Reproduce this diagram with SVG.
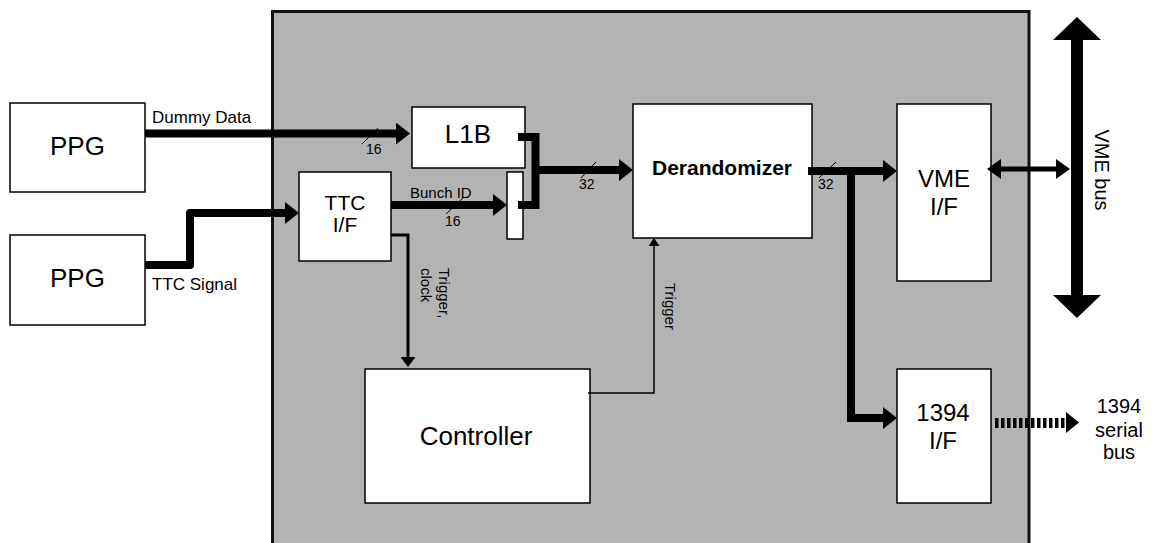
<svg xmlns="http://www.w3.org/2000/svg" width="1152" height="543" viewBox="0 0 1152 543">
<style>
text{font-family:"Liberation Sans",Arial,sans-serif;fill:#000}
.box{fill:#fff;stroke:#000;stroke-width:1.5}
.big{font-size:26px;text-anchor:middle}
.if{font-size:24px;text-anchor:middle}
.mid{font-size:21px;text-anchor:middle}
.lbl{font-size:17px}
.sm{font-size:14px}
.rot{font-size:15px}
.thick{fill:none;stroke:#000;stroke-width:8}
.thin{fill:none;stroke:#000}
.slash{stroke:#000;stroke-width:1}
</style>
<defs>
<marker id="ah" markerUnits="userSpaceOnUse" markerWidth="14" markerHeight="22" refX="0" refY="11" orient="auto"><path d="M0,0 L14,11 L0,22 z"/></marker>
<marker id="ahb" markerUnits="userSpaceOnUse" markerWidth="14" markerHeight="20" refX="0" refY="10" orient="auto-start-reverse"><path d="M0,0 L14,10 L0,20 z"/></marker>
<marker id="ahm" markerUnits="userSpaceOnUse" markerWidth="10" markerHeight="15" refX="0" refY="7.5" orient="auto"><path d="M0,0 L10,7.5 L0,15 z"/></marker>
<marker id="ahs" markerUnits="userSpaceOnUse" markerWidth="8" markerHeight="11" refX="0" refY="5.5" orient="auto"><path d="M0,0 L8,5.5 L0,11 z"/></marker>
</defs>
<rect width="1152" height="543" fill="#fff"/>
<g id="board"><rect x="272.5" y="11.5" width="756.5" height="600" fill="#b3b3b3" stroke="#111" stroke-width="3"/></g>

<g id="ppg1"><rect class="box" x="10" y="103" width="135" height="89"/><text class="big" x="77.5" y="155">PPG</text></g>
<g id="ppg2"><rect class="box" x="10" y="235" width="135" height="90"/><text class="big" x="77.5" y="287">PPG</text></g>
<g id="l1b"><rect class="box" x="412" y="107" width="113" height="61"/><text class="big" x="468" y="143">L1B</text></g>
<g id="mux"><rect class="box" x="507" y="172" width="16" height="67"/></g>
<g id="ttc"><rect class="box" x="299" y="172" width="92" height="89"/><text class="mid" x="345" y="210">TTC</text><text class="mid" x="345" y="232">I/F</text></g>
<g id="derandomizer"><rect class="box" x="633" y="104" width="179" height="134"/><text class="mid" x="722" y="175" font-weight="bold">Derandomizer</text></g>
<g id="vme"><rect class="box" x="897" y="104" width="94" height="177"/><text class="if" x="944" y="187">VME</text><text class="if" x="944" y="215">I/F</text></g>
<g id="fw1394"><rect class="box" x="897" y="369" width="94" height="134"/><text class="if" x="943" y="421">1394</text><text class="if" x="943" y="449">I/F</text></g>
<g id="controller"><rect class="box" x="365" y="369" width="225" height="134"/><text class="big" x="476" y="445">Controller</text></g>

<g id="vmebus">
<polygon points="1077,17 1101,40 1083,40 1083,295 1101,295 1077,318 1053,295 1071,295 1071,40 1053,40"/>
<text font-size="20" text-anchor="middle" transform="translate(1095,170) rotate(90)">VME bus</text>
</g>

<g id="connectors">
<path class="thick" d="M145,133.5 H396" marker-end="url(#ah)"/>
<path class="thick" d="M145,265 H190 V213 H285" stroke-linejoin="round" marker-end="url(#ah)"/>
<path class="thick" d="M391,205 H493" marker-end="url(#ah)"/>
<path class="thick" d="M518,137 H535.5 V205 H518"/>
<path class="thick" d="M535.5,170 H619" marker-end="url(#ah)"/>
<path class="thick" d="M808,171 H883" marker-end="url(#ah)"/>
<path class="thick" d="M851,171 V418 H883" marker-end="url(#ah)"/>
<path class="thin" stroke-width="5" d="M1001,169 H1056" marker-start="url(#ahb)" marker-end="url(#ahb)"/>
<path class="thin" stroke-width="3" d="M391,235 H408 V357" marker-end="url(#ahm)"/>
<path class="thin" stroke-width="1.5" d="M588,393 H654 V246" marker-end="url(#ahs)"/>
<path class="thin" stroke-width="10" stroke-dasharray="3.5,2.5" d="M995,423 H1066"/>
<polygon points="1066,412 1079,422.5 1066,433"/>

<line class="slash" x1="362" y1="144" x2="378" y2="128"/>
<line class="slash" x1="446" y1="214" x2="463" y2="198"/>
<line class="slash" x1="581" y1="178" x2="596" y2="162"/>
<line class="slash" x1="819" y1="178" x2="836" y2="162"/>
<text class="sm" x="366" y="154">16</text>
<text class="sm" x="445" y="226">16</text>
<text class="sm" x="579" y="189">32</text>
<text class="sm" x="818" y="189">32</text>

<text class="lbl" x="152" y="123">Dummy Data</text>
<text class="lbl" x="152" y="290">TTC Signal</text>
<text font-size="15" x="410" y="198">Bunch ID</text>
<text class="rot" transform="translate(439,268) rotate(90)">Trigger,</text>
<text class="rot" transform="translate(421,268) rotate(90)">clock</text>
<text class="rot" transform="translate(665,283) rotate(90)">Trigger</text>
<text font-size="20" text-anchor="middle" x="1119" y="413">1394</text>
<text font-size="20" text-anchor="middle" x="1119" y="437">serial</text>
<text font-size="20" text-anchor="middle" x="1119" y="459">bus</text>
</g>
</svg>
